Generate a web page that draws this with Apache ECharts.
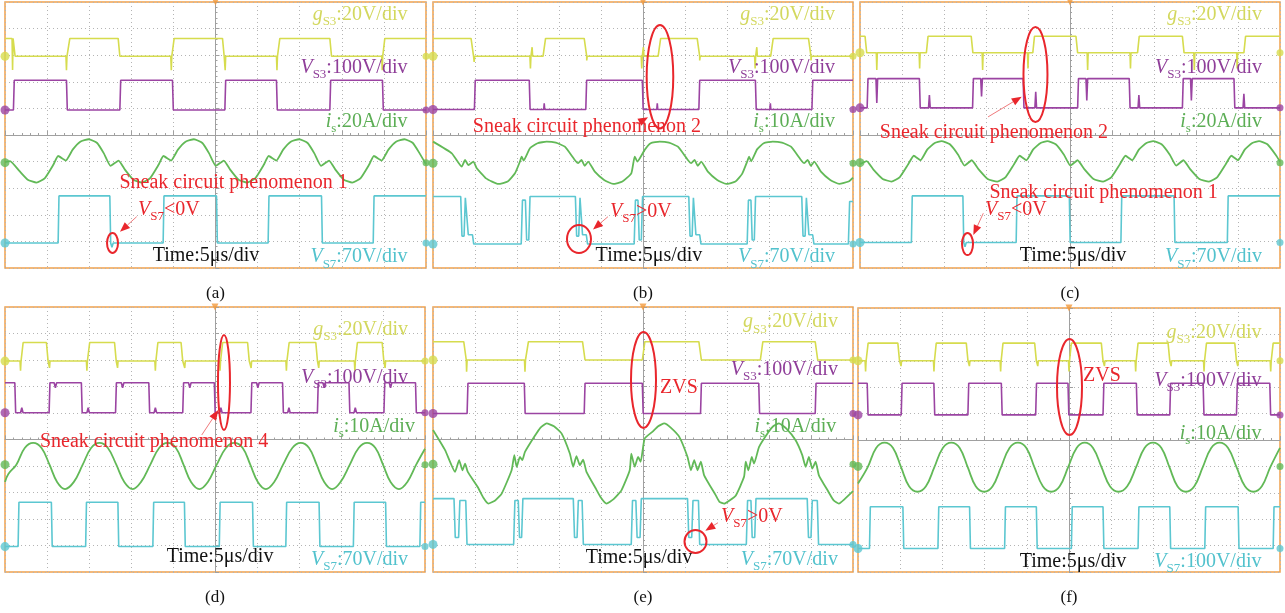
<!DOCTYPE html>
<html>
<head>
<meta charset="utf-8">
<title>Sneak circuit waveforms</title>
<script src="https://cdn.jsdelivr.net/npm/echarts@6.0.0/dist/echarts.min.js"></script>
<style>
html, body { margin: 0; padding: 0; background: #fff; }
#main { width: 1285px; height: 613px; }
</style>
</head>
<body>
<div id="main"></div>
<script>
// x: time in us (5 us/div, trigger at 0), y: screen divisions (-5..5)
// level arrays: [t, level] = trace switches to level at t ; spike arrays: [t, peak]

// ---- (a)
var gA = [[-25, 3.63], [-24.0, 2.96], [-17.5, 3.63], [-11.56, 2.96], [-5.11, 3.63], [0.83, 2.96], [7.44, 3.63], [13.58, 2.96], [19.91, 3.63]];
var gA_spk = [[-24.1, 2.44], [-17.7, 2.44], [-5.25, 2.44], [1.15, 2.44], [7.3, 2.44], [19.8, 2.44]];
var vA = [[-25, 0.94], [-24.0, 2.06], [-17.7, 0.94], [-11.36, 2.06], [-5.11, 0.94], [1.11, 2.06], [7.24, 0.94], [13.58, 2.06], [19.83, 0.94]];
var iA = [[-25, -1.02], [-24.4, -0.98], [-23.3, -1.35], [-22.3, -1.68], [-21.26, -1.79], [-20.26, -1.62], [-19.26, -1.12], [-18.69, -0.79], [-17.78, -0.96], [-16.96, -0.55], [-16.06, -0.25], [-15.06, -0.16], [-14.06, -0.30], [-13.26, -0.69], [-12.46, -1.16], [-11.51, -0.96], [-10.76, -1.30], [-9.76, -1.68], [-8.76, -1.79], [-7.76, -1.62], [-6.76, -1.12], [-6.19, -0.79], [-5.28, -0.96], [-4.46, -0.55], [-3.56, -0.25], [-2.56, -0.16], [-1.56, -0.30], [-0.76, -0.69], [0.04, -1.16], [0.99, -0.96], [1.74, -1.30], [2.74, -1.68], [3.74, -1.79], [4.74, -1.62], [5.74, -1.12], [6.31, -0.79], [7.22, -0.96], [8.04, -0.55], [8.94, -0.25], [9.94, -0.16], [10.94, -0.30], [11.74, -0.69], [12.54, -1.16], [13.49, -0.96], [14.24, -1.30], [15.24, -1.68], [16.24, -1.79], [17.24, -1.62], [18.24, -1.12], [18.81, -0.79], [19.72, -0.96], [20.54, -0.55], [21.44, -0.25], [22.44, -0.16], [23.44, -0.30], [24.24, -0.69], [25, -1.1]];
var cA = [[-25, -4.06], [-18.69, -2.29], [-12.55, -4.06], [-6.22, -2.29], [0.12, -4.06], [6.25, -2.29], [12.59, -4.06], [18.73, -2.29]];
var cA_spk = [[-12.3, -4.22]];

// ---- (b)
var gB = [[-25, 3.63], [-20.47, 2.96], [-11.9, 3.63], [-7.0, 2.96], [1.8, 3.63], [6.45, 2.96], [15.2, 3.63], [19.7, 2.96]];
var gB_spk = [[-20.1, 2.75], [-13.4, 2.5], [-13.2, 3.3], [-6.7, 2.8], [-0.15, 2.5], [0.05, 3.3], [6.75, 2.8], [13.35, 2.5], [13.55, 3.3], [20.0, 2.8]];
var vB = [[-25, 0.96], [-20.07, 2.06], [-13.54, 0.96], [-6.81, 2.06], [-0.08, 0.96], [6.65, 2.06], [13.38, 0.96], [20.11, 2.06]];
var vB_spk = [[-11.76, 1.19], [1.7, 1.19], [15.16, 1.19]];
var iB = [[-25, -0.25], [-22.76, -0.69], [-21.58, -1.19], [-21.18, -0.94], [-20.78, -1.13], [-20.19, -1.0], [-19.79, -1.25], [-18.69, -1.63], [-17.22, -1.84], [-16.11, -1.75], [-15.24, -1.44], [-14.65, -1.0], [-14.45, -0.81], [-14.21, -0.96], [-13.46, -0.5], [-12.55, -0.31], [-11.48, -0.25], [-10.37, -0.29], [-9.30, -0.44], [-8.12, -0.94], [-7.72, -1.06], [-7.32, -0.94], [-6.93, -1.16], [-6.53, -1.0], [-5.74, -1.38], [-4.63, -1.69], [-3.56, -1.84], [-2.45, -1.75], [-1.39, -1.44], [-0.99, -0.81], [-0.67, -1.0], [0.2, -0.56], [0.91, -0.31], [1.98, -0.25], [3.09, -0.29], [4.16, -0.44], [5.34, -0.94], [5.74, -1.06], [6.14, -0.94], [6.53, -1.16], [6.93, -1.0], [7.72, -1.38], [8.83, -1.69], [9.90, -1.84], [11.01, -1.75], [11.8, -1.46], [12.47, -0.94], [12.63, -0.81], [12.87, -0.99], [13.58, -0.54], [14.37, -0.31], [15.44, -0.25], [16.55, -0.29], [17.62, -0.44], [18.80, -0.94], [19.2, -1.06], [19.6, -0.94], [19.99, -1.16], [20.39, -1.0], [21.18, -1.38], [22.29, -1.69], [23.36, -1.84], [24.47, -1.75], [25, -1.6]];
var cB = [[-25, -2.31], [-21.7, -2.31], [-21.55, -3.8], [-21.3, -3.8], [-21.15, -2.36], [-20.95, -2.36], [-20.8, -3.75], [-20.3, -3.75], [-20.15, -4.1],
  [-14.5, -4.1], [-14.35, -2.45], [-14.0, -2.45], [-13.85, -3.95], [-13.6, -3.95], [-13.45, -2.31],
  [-8.05, -2.31], [-7.9, -3.8], [-7.65, -3.8], [-7.5, -2.36], [-7.35, -2.36], [-7.2, -3.75], [-6.75, -3.75], [-6.6, -4.1],
  [-1.05, -4.1], [-0.9, -2.45], [-0.6, -2.45], [-0.45, -3.95], [-0.2, -3.95], [-0.05, -2.31],
  [5.45, -2.31], [5.6, -3.8], [5.85, -3.8], [6.0, -2.36], [6.15, -2.36], [6.3, -3.75], [6.75, -3.75], [6.9, -4.1],
  [12.4, -4.1], [12.55, -2.45], [12.85, -2.45], [13.0, -3.95], [13.25, -3.95], [13.4, -2.31],
  [18.9, -2.31], [19.05, -3.8], [19.3, -3.8], [19.45, -2.36], [19.6, -2.36], [19.75, -3.75], [20.2, -3.75], [20.35, -4.1],
  [24.45, -4.1], [24.6, -2.5], [25, -2.5]];

// ---- (c)
var gC = [[-25, 3.71], [-24.4, 3.09], [-17.1, 3.71], [-11.76, 3.09], [-4.43, 3.71], [0.71, 3.09], [8.04, 3.71], [13.38, 3.09], [20.7, 3.71]];
var gC_spk = [[-23.0, 2.44], [-17.9, 2.5], [-10.4, 2.44], [-5.0, 2.5], [2.1, 2.44], [7.2, 2.5], [14.8, 2.44], [19.9, 2.5]];
var vC = [[-25, 1.02], [-24.15, 2.12], [-17.93, 1.02], [-11.6, 2.12], [-5.58, 1.02], [0.91, 2.12], [7.05, 1.02], [13.38, 2.12], [19.52, 1.02]];
var vC_spk = [[-23.0, 1.2], [-16.74, 1.5], [-10.53, 1.45], [-4.08, 1.62], [2.0, 1.3], [8.2, 1.5], [14.45, 1.3], [20.7, 1.55]];
var iC = [[-25, -1.1], [-24.2, -0.98], [-23.4, -1.3], [-22.3, -1.65],
  [-21.26, -1.75], [-20.26, -1.58], [-19.26, -1.1], [-18.6, -0.78], [-17.8, -0.95], [-17.0, -0.55], [-16.1, -0.3], [-15.3, -0.23], [-14.3, -0.35], [-13.3, -0.75], [-12.55, -1.15], [-11.7, -0.95], [-10.9, -1.28], [-9.8, -1.65],
  [-8.66, -1.75], [-7.66, -1.58], [-6.66, -1.1], [-6.0, -0.78], [-5.2, -0.95], [-4.4, -0.55], [-3.5, -0.3], [-2.7, -0.23], [-1.7, -0.35], [-0.7, -0.75], [0.05, -1.15], [0.9, -0.95], [1.7, -1.28], [2.8, -1.65],
  [3.94, -1.75], [4.94, -1.58], [5.94, -1.1], [6.6, -0.78], [7.4, -0.95], [8.2, -0.55], [9.1, -0.3], [9.9, -0.23], [10.9, -0.35], [11.9, -0.75], [12.65, -1.15], [13.5, -0.95], [14.3, -1.28], [15.4, -1.65],
  [16.54, -1.75], [17.54, -1.58], [18.54, -1.1], [19.2, -0.78], [20.0, -0.95], [20.8, -0.55], [21.7, -0.3], [22.5, -0.23], [23.5, -0.35], [24.5, -0.75], [25, -1.0]];
var cC = [[-25, -4.04], [-18.88, -2.29], [-12.75, -4.04], [-6.41, -2.29], [-0.08, -4.04], [6.06, -2.29], [12.39, -4.04], [18.73, -2.29]];
var cC_spk = [[-12.5, -4.2]];

// ---- (d)
var gD = [[-25, 2.96], [-23.04, 3.66], [-20.07, 2.96], [-15.12, 3.66], [-11.96, 2.96], [-7.0, 3.66], [-4.04, 2.96], [0.71, 3.66], [3.88, 2.96], [8.63, 3.66], [12.0, 2.96], [16.75, 3.66], [19.9, 2.96]];
var gD_spk = [[-23.15, 2.6], [-19.7, 2.7], [-15.25, 2.6], [-11.6, 2.7], [-7.1, 2.6], [-3.6, 2.7], [0.6, 2.6], [4.3, 2.7], [8.5, 2.6], [12.35, 2.7], [16.65, 2.6], [20.25, 2.7]];
var vD = [[-25, 2.14], [-23.83, 1.01], [-19.75, 2.14], [-15.91, 1.01], [-11.84, 2.14], [-7.88, 1.01], [-3.84, 2.14], [-0.08, 1.01], [4.28, 2.14], [8.04, 1.01], [12.19, 2.14], [15.95, 1.01], [20.11, 2.14], [23.87, 1.01]];
var vD_spk = [[-23.0, 1.2], [-19.0, 1.95], [-15.1, 1.2], [-11.0, 1.95], [-7.1, 1.2], [-3.0, 1.95], [0.7, 1.2], [5.1, 1.95], [8.8, 1.2], [13.0, 1.95], [16.7, 1.2], [20.9, 1.95]];
var iD = [[-25, -1.6], [-24.6, -1.3], [-23.65, -0.95], [-22.65, -0.32], [-21.65, -0.13], [-20.65, -0.32], [-19.7, -0.95], [-18.8, -1.6], [-17.85, -1.87], [-16.8, -1.6], [-15.75, -0.95], [-14.75, -0.32], [-13.75, -0.13], [-12.75, -0.32], [-11.75, -0.95], [-10.8, -1.6], [-9.8, -1.87], [-8.8, -1.6], [-7.7, -0.95], [-6.65, -0.32], [-5.65, -0.13], [-4.65, -0.32], [-3.75, -0.95], [-2.85, -1.6], [-1.85, -1.87], [-0.85, -1.6], [0.2, -0.95], [1.3, -0.32], [2.3, -0.13], [3.3, -0.32], [4.2, -0.95], [5.1, -1.6], [6.05, -1.87], [7.05, -1.6], [8.1, -0.95], [9.2, -0.32], [10.2, -0.13], [11.2, -0.32], [12.1, -0.95], [13.0, -1.6], [13.95, -1.87], [14.95, -1.6], [16.05, -0.95], [17.1, -0.32], [18.1, -0.13], [19.1, -0.32], [20.0, -0.95], [20.9, -1.6], [21.9, -1.87], [22.9, -1.6], [23.95, -0.95], [25, -0.35]];
var cD = [[-25, -4.04], [-23.44, -2.37], [-19.48, -4.04], [-15.4, -2.37], [-11.56, -4.04], [-7.4, -2.37], [-3.64, -4.04], [0.51, -2.37], [4.47, -4.04], [8.43, -2.37], [12.39, -4.04], [16.47, -2.37], [20.31, -4.04], [24.39, -2.37]];

// ---- (e)
var gE = [[-25, 3.69], [-21.34, 3.0], [-13.94, 3.69], [-7.2, 3.0], [-0.08, 3.69], [6.65, 3.0], [13.97, 3.69], [20.5, 3.0]];
var gE_spk = [[-21.0, 2.56], [-14.05, 2.56]];
var vE = [[-25, 0.98], [-20.94, 2.12], [-14.13, 0.98], [-7.0, 2.12], [-0.08, 0.98], [6.85, 2.12], [13.78, 0.98], [20.5, 2.12]];
var iE = [[-25, 0.36], [-23.56, -0.40], [-22.37, -1.22], [-21.89, -0.78], [-21.5, -1.16], [-21.18, -0.91], [-20.86, -1.22], [-19.68, -1.79], [-19.0, -2.2], [-18.41, -2.42], [-17.6, -2.3], [-16.82, -2.04], [-15.64, -1.16], [-15.32, -0.59], [-15.04, -1.03], [-14.65, -0.66], [-14.37, -0.78], [-14.05, -0.47], [-12.95, 0.10], [-12.2, 0.45], [-11.48, 0.61], [-10.6, 0.5], [-9.7, 0.23], [-8.71, -0.53], [-8.31, -1.03], [-7.92, -0.63], [-7.52, -0.97], [-7.13, -0.76], [-6.73, -1.22], [-5.62, -1.85], [-5.0, -2.2], [-4.35, -2.42], [-3.5, -2.25], [-2.57, -1.92], [-1.58, -1.16], [-1.39, -0.53], [-0.99, -1.03], [-0.59, -0.66], [-0.28, -0.84], [0.2, 0.04], [1.11, 0.29], [1.8, 0.5], [2.53, 0.61], [3.3, 0.45], [4.32, 0.10], [5.3, -0.66], [5.7, -1.16], [6.1, -0.78], [6.49, -1.16], [6.89, -0.84], [7.28, -1.35], [8.67, -2.11], [9.1, -2.35], [9.66, -2.42], [10.3, -2.3], [11.05, -2.11], [12.03, -1.41], [12.23, -0.84], [12.55, -1.16], [12.95, -0.66], [13.22, -0.91], [13.82, -0.28], [14.96, 0.29], [15.5, 0.5], [16.19, 0.61], [17.1, 0.4], [18.17, -0.03], [18.96, -0.59], [19.36, -1.03], [19.75, -0.66], [20.15, -1.10], [20.55, -0.84], [20.94, -1.35], [22.09, -1.98], [22.7, -2.3], [23.32, -2.42], [24.0, -2.25], [25, -1.95]];
var cE = [[-25, -2.23], [-22.5, -2.23], [-22.35, -3.7], [-21.95, -3.7], [-21.8, -2.3], [-21.1, -2.3], [-20.95, -3.96],
  [-15.4, -3.96], [-15.25, -2.3], [-14.85, -2.3], [-14.7, -3.7], [-14.45, -3.7], [-14.3, -2.23],
  [-8.3, -2.23], [-8.15, -3.7], [-7.85, -3.7], [-7.7, -2.3], [-7.25, -2.3], [-7.1, -3.96],
  [-1.4, -3.96], [-1.25, -2.3], [-0.85, -2.3], [-0.7, -3.7], [-0.35, -3.7], [-0.2, -2.23],
  [5.3, -2.23], [5.45, -3.7], [5.8, -3.7], [5.95, -2.3], [6.6, -2.3], [6.75, -3.96],
  [12.3, -3.96], [12.45, -2.3], [12.85, -2.3], [13.0, -3.7], [13.3, -3.7], [13.45, -2.23],
  [19.55, -2.23], [19.7, -3.7], [20.0, -3.7], [20.15, -2.3], [20.75, -2.3], [20.9, -3.96],
  [25, -3.96]];

// ---- (f)
var gF = [[-25, 3.0], [-24.0, 3.67], [-20.28, 3.0], [-15.93, 3.67], [-12.17, 3.0], [-8.02, 3.67], [-4.07, 3.0], [0.08, 3.67], [3.83, 3.0], [7.98, 3.67], [11.74, 3.0], [16.09, 3.67], [19.64, 3.0], [23.99, 3.67]];
var gF_spk = [[-24.1, 2.6], [-19.9, 2.8], [-16.0, 2.6], [-11.8, 2.8], [-8.1, 2.6], [-3.7, 2.8], [0.0, 2.6], [4.2, 2.8], [7.9, 2.6], [12.1, 2.8], [16.0, 2.6], [20.0, 2.8], [23.9, 2.6]];
var vF = [[-25, 2.15], [-23.91, 0.95], [-19.88, 2.15], [-16.01, 0.95], [-11.98, 2.15], [-8.02, 0.95], [-3.95, 2.15], [-0.12, 0.95], [4.03, 2.15], [7.98, 0.95], [11.94, 2.15], [15.89, 0.95], [19.84, 2.15], [23.79, 0.95]];
var iF = [[-25, -1.65], [-23.85, -1.03], [-22.85, -0.3], [-21.86, -0.1], [-20.85, -0.3], [-19.9, -1.03], [-18.95, -1.75], [-17.95, -1.96], [-16.95, -1.75], [-15.95, -1.03], [-14.95, -0.3], [-13.95, -0.1], [-12.95, -0.3], [-12.0, -1.03], [-11.05, -1.75], [-10.05, -1.96], [-9.05, -1.75], [-8.05, -1.03], [-7.05, -0.3], [-6.05, -0.1], [-5.05, -0.3], [-4.1, -1.03], [-3.1, -1.75], [-2.1, -1.96], [-1.1, -1.75], [-0.1, -1.03], [0.9, -0.3], [1.86, -0.1], [2.85, -0.3], [3.85, -1.03], [4.85, -1.75], [5.85, -1.96], [6.9, -1.75], [7.95, -1.03], [8.95, -0.3], [9.95, -0.1], [10.95, -0.3], [11.9, -1.03], [12.85, -1.75], [13.85, -1.96], [14.85, -1.75], [15.85, -1.03], [16.85, -0.3], [17.85, -0.1], [18.85, -0.3], [19.85, -1.03], [20.85, -1.75], [21.85, -1.96], [22.85, -1.75], [23.85, -1.03], [25, -0.3]];
var cF = [[-25, -4.11], [-23.64, -2.53], [-19.68, -4.11], [-15.53, -2.53], [-11.78, -4.11], [-7.63, -2.53], [-3.87, -4.11], [0.28, -2.53], [4.03, -4.11], [8.18, -2.53], [11.94, -4.11], [16.09, -2.53], [20.04, -4.11], [24.19, -2.53]];

// channel ground markers (g, VS3, is, VS7) per panel
var offsA = [2.96, 0.94, -1.04, -4.06];
var offsB = [2.96, 0.96, -1.06, -4.10];
var offsC = [3.09, 1.02, -1.04, -4.04];
var offsD = [2.96, 1.01, -0.95, -4.04];
var offsE = [3.0, 0.98, -0.93, -3.96];
var offsF = [3.0, 0.95, -1.0, -4.11];

// volts/div texts
var gDiv = ['20V', '20V', '20V', '20V', '20V', '20V'];
var v3Div = ['100V', '100V', '100V', '100V', '100V', '100V'];
var iDiv = ['20A', '10A', '20A', '10A', '10A', '10A'];
var v7Div = ['70V', '70V', '70V', '70V', '70V', '100V'];
var captions = ['(a)', '(b)', '(c)', '(d)', '(e)', '(f)'];

var SERIF = '"Liberation Serif", "Times New Roman", serif';
var COL = ['#d6dc4e', '#9b44a2', '#62b957', '#5cc7d1'];
var TXT = ['#d3d85e', '#8f3e99', '#5cae55', '#52c2cd'];
var RED = '#e9262c';

// turn level changes + spikes into a polyline
function steps(levels, spikes, edge, w) {
    var ev = levels.map(function (p) { return {t: p[0], y: p[1], s: false}; });
    (spikes || []).forEach(function (p) { ev.push({t: p[0], y: p[1], s: true}); });
    ev.sort(function (a, b) { return a.t - b.t; });
    var out = [], cur = null;
    ev.forEach(function (e) {
        if (cur === null) { cur = e.y; out.push([e.t, cur]); }
        else if (e.s) { out.push([e.t - w, cur], [e.t, e.y], [e.t + w, cur]); }
        else { out.push([e.t, cur], [e.t + edge, e.y]); cur = e.y; }
    });
    out.push([25, cur]);
    return out;
}

var panels = [
    {g: steps(gA, gA_spk, 0.2, 0.06), v: steps(vA, null, 0.1, 0.06), i: iA, c: steps(cA, cA_spk, 0.1, 0.15), offs: offsA, sm: 0.15},
    {g: steps(gB, gB_spk, 0.3, 0.06), v: steps(vB, vB_spk, 0.1, 0.06), i: iB, c: cB, offs: offsB, sm: 0.15},
    {g: steps(gC, gC_spk, 0.2, 0.06), v: steps(vC, vC_spk, 0.1, 0.1), i: iC, c: steps(cC, cC_spk, 0.1, 0.15), offs: offsC, sm: 0.15},
    {g: steps(gD, gD_spk, 0.2, 0.06), v: steps(vD, vD_spk, 0.1, 0.15), i: iD, c: steps(cD, null, 0.1, 0.1), offs: offsD, sm: 0.4},
    {g: steps(gE, gE_spk, 0.3, 0.06), v: steps(vE, null, 0.1, 0.06), i: iE, c: cE, offs: offsE, sm: 0.15},
    {g: steps(gF, gF_spk, 0.2, 0.06), v: steps(vF, null, 0.1, 0.06), i: iF, c: steps(cF, null, 0.1, 0.1), offs: offsF, sm: 0.4}
];

// annotation placement (data coords)
var notes = [
    {red: [[2.14, -1.80, 'Sneak circuit phenomenon 1', 'center'], [-9.2, -2.82, '{it|V}{sub|S7}{n|<0V}', 'left']],
     rings: [[-12.23, -4.06, 5.5, 10]], arrows: [[-9.36, -3.07, -11.34, -3.64]],
     time: [-1.13, -4.55], right: [22.8, 22.8, 22.8, 22.8], rows: [4.51, 2.52, 0.49, -4.59]},
    {red: [[-6.67, 0.30, 'Sneak circuit phenomenon 2', 'center'], [-3.93, -2.89, '{it|V}{sub|S7}{n|>0V}', 'left']],
     rings: [[2.02, 2.19, 13.3, 51.7], [-7.62, -3.91, 12, 14]], arrows: [[-0.8, 0.41, 0.6, 0.67], [-4.17, -3.07, -5.95, -3.55]],
     time: [0.71, -4.55], right: [22.86, 22.86, 22.86, 22.86], rows: [4.51, 2.52, 0.49, -4.59]},
    {red: [[-9.05, 0.08, 'Sneak circuit phenomenon 2', 'center'], [3.99, -2.18, 'Sneak circuit phenomenon 1', 'center'], [-10.12, -2.82, '{it|V}{sub|S7}{n|<0V}', 'left']],
     rings: [[-4.11, 2.27, 12, 47.5], [-12.2, -4.1, 5.5, 11]], arrows: [[-9.76, 0.68, -5.75, 1.44], [-10.32, -2.94, -11.51, -3.76]],
     time: [0.36, -4.55], right: [22.86, 22.86, 22.86, 22.86], rows: [4.51, 2.52, 0.49, -4.59]},
    {red: [[-7.26, -0.09, 'Sneak circuit phenomenon 4', 'center']],
     rings: [[1.07, 2.15, 6, 47.5]], arrows: [[-1.58, 0.17, 0.39, 1.11]],
     time: [0.6, -4.43], right: [22.98, 22.98, 23.8, 22.98], rows: [4.13, 2.32, 0.47, -4.55]},
    {red: [[2.02, 1.94, 'ZVS', 'left'], [9.29, -2.92, '{it|V}{sub|S7}{n|>0V}', 'left']],
     rings: [[0.06, 2.25, 12.5, 48], [6.25, -3.85, 11, 11.5]], arrows: [[8.93, -3.14, 7.42, -3.44]],
     time: [-0.48, -4.47], right: [23.2, 23.2, 23.0, 23.2], rows: [4.43, 2.62, 0.47, -4.55]},
    {red: [[1.66, 2.42, 'ZVS', 'left']],
     rings: [[0.06, 2.01, 12.5, 48]], arrows: [],
     time: [0.47, -4.62], right: [22.8, 22.8, 22.8, 22.8], rows: [4.06, 2.25, 0.24, -4.62]}
];

var boxes = [[5, 2, 421, 266], [433, 2, 420, 266], [860, 2, 420, 266],
             [5, 307, 420, 265], [433, 307, 420, 265], [858, 308, 422, 264]];

var chart = echarts.init(document.getElementById('main'));

var option = {
    animation: false,
    backgroundColor: '#fff',
    grid: [], xAxis: [], yAxis: [], series: []
};

boxes.forEach(function (b, k) {
    option.grid.push({left: b[0], top: b[1], width: b[2], height: b[3], show: true,
        borderColor: '#f0a14e', borderWidth: 1.5, backgroundColor: '#fff', outerBoundsMode: 'none'});
    var ax = {
        gridIndex: k, type: 'value', axisLabel: {show: false},
        axisLine: {show: true, onZero: true, lineStyle: {color: '#a0a0a0', width: 1}},
        axisTick: {show: true, inside: true, length: 4, lineStyle: {color: '#a0a0a0'}},
        minorTick: {show: true, splitNumber: 5, length: 2, lineStyle: {color: '#a0a0a0'}},
        splitLine: {show: true, lineStyle: {color: '#b4b4b4', width: 1, type: [1, 3]}}
    };
    option.xAxis.push(Object.assign({}, ax, {min: -25, max: 25, interval: 5}));
    option.yAxis.push(Object.assign({}, ax, {min: -5, max: 5, interval: 1}));

    var p = panels[k];
    [p.g, p.v, p.i, p.c].forEach(function (d, n) {
        option.series.push({
            type: 'line', xAxisIndex: k, yAxisIndex: k, data: d,
            symbol: 'none', silent: true, smooth: n === 2 ? p.sm : false,
            lineStyle: {color: COL[n], width: n === 2 ? 1.8 : 1.6}, z: 3 + n
        });
    });
    var dots = [];
    p.offs.forEach(function (y, n) {
        dots.push({value: [-25, y], itemStyle: {color: COL[n]}, symbolSize: 9});
        dots.push({value: [25, y], itemStyle: {color: COL[n]}, symbolSize: 7});
    });
    dots.push({value: [0, 5], symbol: 'triangle', symbolRotate: 180, symbolSize: 7, itemStyle: {color: '#f29a3c'}});
    option.series.push({type: 'scatter', xAxisIndex: k, yAxisIndex: k, data: dots, clip: false, silent: true, z: 8});
});

chart.setOption(option);

// texts, rings and arrows placed through the axes
var RICH = {
    it: {fontFamily: SERIF, fontSize: 20, fontStyle: 'italic'},
    n: {fontFamily: SERIF, fontSize: 20},
    sub: {fontFamily: SERIF, fontSize: 13, padding: [14, 0, 0, 0]}
};
var graphic = [];
function px(k, t, y) { return chart.convertToPixel({xAxisIndex: k, yAxisIndex: k}, [t, y]); }
function label(pt, text, fill, align, size) {
    graphic.push({type: 'text', x: pt[0], y: pt[1], z: 20, silent: true,
        style: {text: text, rich: RICH, fill: fill, align: align, verticalAlign: 'middle',
                font: (size || 20) + 'px ' + SERIF}});
}

notes.forEach(function (nt, k) {
    var heads = ['{it|g}{sub|S3}{n|:' + gDiv[k] + '/div}', '{it|V}{sub|S3}{n|:' + v3Div[k] + '/div}',
                 '{it|i}{sub|s}{n|:' + iDiv[k] + '/div}', '{it|V}{sub|S7}{n|:' + v7Div[k] + '/div}'];
    heads.forEach(function (h, n) { label(px(k, nt.right[n], nt.rows[n]), h, TXT[n], 'right'); });
    label(px(k, nt.time[0], nt.time[1]), '{n|Time:5\u03bcs/div}', '#111', 'center');
    nt.red.forEach(function (r) {
        var txt = r[2].indexOf('{') === 0 ? r[2] : '{n|' + r[2] + '}';
        label(px(k, r[0], r[1]), txt, RED, r[3], r[2] === 'ZVS' ? 22 : 20);
    });
    nt.rings.forEach(function (r) {
        var c = px(k, r[0], r[1]);
        graphic.push({type: 'ellipse', z: 20, silent: true, shape: {cx: c[0], cy: c[1], rx: r[2], ry: r[3]},
            style: {fill: null, stroke: RED, lineWidth: 2}});
    });
    nt.arrows.forEach(function (a) {
        var s = px(k, a[0], a[1]), e = px(k, a[2], a[3]);
        var ang = Math.atan2(e[1] - s[1], e[0] - s[0]);
        var bx = e[0] - 10 * Math.cos(ang), by = e[1] - 10 * Math.sin(ang);
        var nx = -Math.sin(ang) * 4, ny = Math.cos(ang) * 4;
        graphic.push({type: 'line', z: 20, silent: true, shape: {x1: s[0], y1: s[1], x2: bx, y2: by},
            style: {stroke: '#f07a7c', lineWidth: 1}});
        graphic.push({type: 'polygon', z: 20, silent: true,
            shape: {points: [[e[0], e[1]], [bx + nx, by + ny], [bx - nx, by - ny]]}, style: {fill: RED}});
    });
    var b = boxes[k];
    graphic.push({type: 'text', x: b[0] + b[2] / 2, y: b[1] + b[3] + 26, silent: true,
        style: {text: captions[k], fill: '#111', align: 'center', verticalAlign: 'middle', font: '17px ' + SERIF}});
});

chart.setOption({graphic: graphic});
</script>
</body>
</html>
